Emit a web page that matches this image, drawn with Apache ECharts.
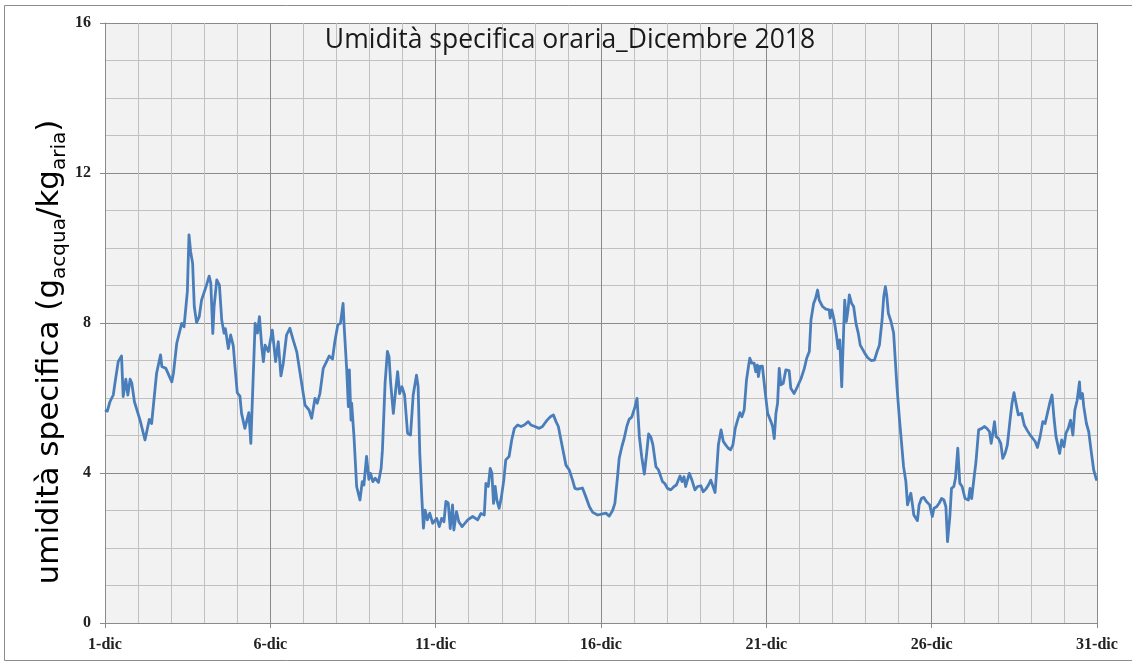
<!DOCTYPE html>
<html>
<head>
<meta charset="utf-8">
<script src="https://cdn.jsdelivr.net/npm/echarts@6/dist/echarts.min.js"></script>
<style>
html,body{margin:0;padding:0;background:#fff;}
#chart{width:1132px;height:663px;}
</style>
</head>
<body>
<div id="chart"></div>
<script>
// x = days since 1 Dec 00:00, y = specific humidity (g/kg)
const days1to6 = [[0,5.68],[0.07,5.65],[0.15,5.9],[0.25,6.08],[0.3,6.39],[0.4,6.97],[0.5,7.12],[0.55,6.04],[0.63,6.5],[0.69,6.08],[0.76,6.5],[0.81,6.4],[0.89,5.9],[1.06,5.41],[1.21,4.88],[1.34,5.43],[1.41,5.32],[1.56,6.66],[1.68,7.15],[1.72,6.84],[1.84,6.79],[2.02,6.43],[2.07,6.66],[2.17,7.46],[2.32,7.99],[2.39,7.9],[2.49,8.83],[2.54,10.35],[2.59,9.9],[2.65,9.59],[2.7,8.44],[2.77,8.01],[2.85,8.17],[2.92,8.61],[2.96,8.65],[3.07,9.01],[3.15,9.25],[3.2,9.06],[3.26,7.72],[3.3,8.44],[3.38,9.15],[3.46,9.01],[3.53,8.08],[3.6,7.73],[3.64,7.85],[3.73,7.32],[3.8,7.68],[3.88,7.39],[3.93,6.84],[4.0,6.14],[4.08,6.05],[4.13,5.59],[4.23,5.19],[4.27,5.23],[4.35,5.61],[4.41,4.79],[4.47,4.75],[4.54,7.99],[4.61,7.73],[4.67,8.17],[4.74,7.37],[4.79,6.97],[4.84,7.41],[4.94,7.24]];
const days6to11 = [[5.06,7.81],[5.16,6.97],[5.24,7.5],[5.32,6.59],[5.39,6.92],[5.49,7.68],[5.59,7.86],[5.69,7.55],[5.8,7.23],[5.9,6.66],[6.05,5.81],[6.17,5.68],[6.25,5.46],[6.35,5.99],[6.42,5.86],[6.5,6.12],[6.6,6.79],[6.7,6.97],[6.78,7.12],[6.88,7.04],[6.95,7.5],[7.04,7.95],[7.1,7.9],[7.12,7.99],[7.2,8.52],[7.23,7.95],[7.31,6.75],[7.36,5.77],[7.39,6.75],[7.44,5.41],[7.46,5.86],[7.53,4.97],[7.61,3.64],[7.71,3.28],[7.78,3.77],[7.83,3.68],[7.91,4.44],[7.98,3.83],[8.03,3.99],[8.1,3.77],[8.17,3.86],[8.27,3.75],[8.35,4.12],[8.39,4.61],[8.47,6.39],[8.54,7.24],[8.59,7.1],[8.64,6.39],[8.72,5.59],[8.79,6.21],[8.85,6.7],[8.91,6.12],[8.98,6.3],[9.06,6.08],[9.15,5.06],[9.24,5.01],[9.32,6.08],[9.42,6.61],[9.47,6.3],[9.52,4.52],[9.58,3.37],[9.63,2.53],[9.68,3.01],[9.75,2.75],[9.82,2.93],[9.91,2.66]];
const days11to16 = [[9.96,2.7],[10.03,2.79],[10.11,2.57],[10.18,2.79],[10.25,2.7],[10.31,3.24],[10.38,3.2],[10.44,2.52],[10.51,3.15],[10.55,2.48],[10.63,2.97],[10.7,2.7],[10.8,2.57],[10.97,2.75],[11.12,2.84],[11.27,2.75],[11.37,2.92],[11.47,2.88],[11.52,3.72],[11.59,3.64],[11.65,4.12],[11.7,4.0],[11.75,3.19],[11.8,3.64],[11.85,3.28],[11.92,3.06],[11.99,3.37],[12.06,3.81],[12.12,4.35],[12.22,4.44],[12.3,4.88],[12.38,5.19],[12.48,5.28],[12.58,5.24],[12.68,5.28],[12.8,5.37],[12.88,5.28],[13.0,5.24],[13.13,5.19],[13.23,5.24],[13.37,5.41],[13.47,5.5],[13.56,5.55],[13.64,5.37],[13.71,5.24],[13.79,4.88],[13.87,4.52],[13.94,4.21],[14.04,4.08],[14.14,3.81],[14.21,3.59],[14.29,3.57],[14.44,3.6],[14.54,3.37],[14.65,3.1],[14.75,2.95],[14.9,2.88],[15.05,2.91],[15.15,2.93]];
const days16to21 = [[15.25,2.85],[15.35,3.0],[15.42,3.19],[15.5,3.9],[15.55,4.39],[15.63,4.7],[15.7,4.92],[15.78,5.24],[15.85,5.43],[15.93,5.49],[15.98,5.63],[16.03,5.77],[16.09,5.99],[16.16,4.97],[16.23,4.44],[16.31,3.97],[16.38,4.52],[16.44,5.04],[16.51,4.95],[16.57,4.75],[16.66,4.17],[16.74,4.08],[16.8,4.04],[16.86,3.77],[16.93,3.72],[17.01,3.59],[17.11,3.55],[17.21,3.64],[17.28,3.68],[17.39,3.92],[17.45,3.77],[17.51,3.9],[17.56,3.64],[17.67,3.99],[17.75,3.81],[17.84,3.55],[17.92,3.64],[18.02,3.66],[18.09,3.5],[18.17,3.57],[18.25,3.68],[18.32,3.81],[18.37,3.86],[18.45,3.48],[18.5,4.08],[18.55,4.75],[18.63,5.15],[18.7,4.84],[18.77,4.75],[18.85,4.66],[18.92,4.62],[18.99,4.75],[19.06,5.19],[19.13,5.41],[19.2,5.61],[19.26,5.5],[19.33,5.68],[19.4,6.48],[19.46,6.84],[19.5,7.06],[19.56,6.93],[19.63,6.93],[19.68,6.7],[19.73,6.88],[19.76,6.57],[19.81,6.84],[19.88,6.85]];
const days21to26 = [[19.96,6.2],[20.04,5.59],[20.14,5.37],[20.19,5.24],[20.24,4.92],[20.29,5.59],[20.34,5.86],[20.39,6.79],[20.44,6.35],[20.51,6.39],[20.59,6.75],[20.69,6.73],[20.74,6.26],[20.84,6.12],[20.94,6.3],[21.05,6.52],[21.15,6.79],[21.22,7.06],[21.3,7.24],[21.35,8.08],[21.43,8.52],[21.49,8.66],[21.55,8.88],[21.6,8.61],[21.7,8.44],[21.8,8.37],[21.9,8.35],[21.93,8.13],[21.98,8.35],[22.05,8.08],[22.12,7.68],[22.17,7.32],[22.22,7.55],[22.28,6.3],[22.31,7.1],[22.37,8.61],[22.42,8.04],[22.47,8.35],[22.51,8.75],[22.58,8.52],[22.64,8.44],[22.71,7.99],[22.78,7.73],[22.84,7.41],[22.9,7.37],[22.98,7.19],[23.06,7.08],[23.17,7.0],[23.27,7.01],[23.35,7.24],[23.42,7.41],[23.5,8.08],[23.55,8.7],[23.6,8.97],[23.64,8.75],[23.69,8.26],[23.77,8.04],[23.85,7.73],[23.9,7.01],[23.95,6.3],[24.02,5.5],[24.09,4.79],[24.15,4.17],[24.22,3.77],[24.27,3.15],[24.29,3.1],[24.37,3.46],[24.42,3.15],[24.46,2.88],[24.52,2.88],[24.57,2.73],[24.62,3.15],[24.69,3.32],[24.76,3.35],[24.84,3.24],[24.94,3.15]];
const days26to31 = [[25.02,2.84],[25.07,3.06],[25.15,3.1],[25.23,3.2],[25.3,3.32],[25.37,3.28],[25.43,3.1],[25.48,2.17],[25.55,2.84],[25.6,3.59],[25.67,3.64],[25.72,3.86],[25.79,4.66],[25.85,3.73],[25.92,3.64],[26.01,3.32],[26.11,3.28],[26.16,3.59],[26.21,3.32],[26.28,3.86],[26.34,4.3],[26.42,5.15],[26.52,5.19],[26.59,5.24],[26.67,5.19],[26.75,5.1],[26.8,4.79],[26.85,5.06],[26.9,5.37],[26.95,4.97],[27.02,4.92],[27.09,4.79],[27.15,4.39],[27.22,4.52],[27.29,4.75],[27.37,5.41],[27.43,5.86],[27.49,6.14],[27.55,5.86],[27.62,5.55],[27.72,5.59],[27.8,5.28],[27.88,5.15],[27.98,5.01],[28.06,4.92],[28.13,4.84],[28.2,4.68],[28.28,4.97],[28.36,5.37],[28.43,5.32],[28.5,5.59],[28.58,5.9],[28.64,6.08],[28.7,5.46],[28.76,4.97],[28.81,4.92],[28.87,4.52],[28.93,4.88],[29.0,4.7],[29.06,5.06],[29.13,5.19],[29.2,5.41],[29.27,5.01],[29.33,5.68],[29.4,5.94],[29.47,6.43],[29.5,5.99],[29.56,6.12],[29.6,5.77],[29.68,5.32],[29.75,5.1],[29.82,4.61],[29.9,4.08],[29.98,3.83],[30,3.8]];
const xTickLabels = ['1-dic','6-dic','11-dic','16-dic','21-dic','26-dic','31-dic'];
const yTickLabels = ['0','4','8','12','16'];
const titleText = 'Umidità specifica oraria_Dicembre 2018';

const seriesData = [].concat(days1to6, days6to11, days11to16, days16to21, days21to26, days26to31);

const chart = echarts.init(document.getElementById('chart'), null, {renderer:'canvas'});
const major = '#8a8a8a', minor = '#c0c0c0';
chart.setOption({
  animation:false,
  backgroundColor:'#ffffff',
  grid:{left:105, right:35, top:23, bottom:40, show:true, backgroundColor:'#f2f2f2', borderWidth:0},
  graphic:[
    {type:'rect', shape:{x:4.5,y:5.5,width:1200,height:655}, style:{fill:'none', stroke:'#8c8c8c', lineWidth:1}, silent:true, z:-1},
    {type:'text', x:570, y:40, silent:true, z:10,
      style:{text:titleText, align:'center', verticalAlign:'middle', fontFamily:'Open Sans', fontSize:26.5, fill:'#1a1a1a'}},
    {type:'text', x:50, y:352, rotation:Math.PI/2, silent:true,
      style:{text:'{n|umidità specifica (g}{s|acqua}{n|/kg}{s|aria}{n|)}', align:'center', verticalAlign:'middle',
        rich:{n:{fontFamily:'DejaVu Sans', fontSize:31, lineHeight:40, fill:'#000'},
              s:{fontFamily:'DejaVu Sans', fontSize:20, lineHeight:18, verticalAlign:'bottom', fill:'#000'}}}}
  ],
  xAxis:{type:'value', min:0, max:30, interval:5,
    axisLine:{show:true, lineStyle:{color:major, width:1}},
    axisTick:{show:true, length:5, lineStyle:{color:major}},
    axisLabel:{margin:14, fontFamily:'Liberation Serif', fontWeight:'bold', fontSize:16, color:'#222',
      formatter:(v)=>xTickLabels[Math.round(v/5)]},
    splitLine:{show:true, lineStyle:{color:major, width:1}},
    minorTick:{show:false, splitNumber:5},
    minorSplitLine:{show:true, lineStyle:{color:minor, width:1}}},
  yAxis:{type:'value', min:0, max:16, interval:4,
    axisLine:{show:true, lineStyle:{color:major, width:1}},
    axisTick:{show:true, length:5, lineStyle:{color:major}},
    axisLabel:{margin:14, fontFamily:'Liberation Serif', fontWeight:'bold', fontSize:16, color:'#222',
      formatter:(v)=>yTickLabels[Math.round(v/4)]},
    splitLine:{show:true, lineStyle:{color:major, width:1}},
    minorTick:{show:false, splitNumber:4},
    minorSplitLine:{show:true, lineStyle:{color:minor, width:1}}},
  series:[{type:'line', data:seriesData, showSymbol:false, symbol:'none',
    lineStyle:{color:'#4a7ebb', width:2.8, join:'round'}, z:3}]
});
</script>
</body>
</html>
